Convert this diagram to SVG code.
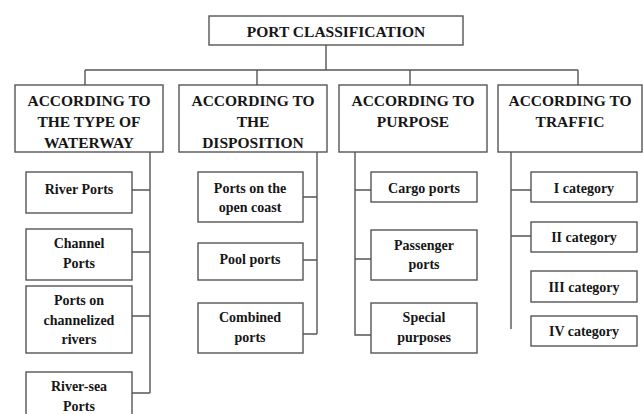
<svg xmlns="http://www.w3.org/2000/svg" width="643" height="414" viewBox="0 0 643 414">
<style>
rect{fill:#fff;stroke:#555;stroke-width:1.4}
.c path{fill:none;stroke:#555;stroke-width:1.4}
text{font-family:"Liberation Serif","Times New Roman",serif;font-weight:bold;fill:#161616;text-anchor:middle;dominant-baseline:central}
.h{font-size:15.5px}
.s{font-size:14px}
</style>
<rect x="0" y="0" width="643" height="414" style="stroke:none"/>
<g class="c">
<path d="M326 45V70M85 70H578M85 70V85M257 70V85M410 70V85M578 70V85"/>
<path d="M150 152V393M132 190H150M132 252H150M132 316H150M132 393H150"/>
<path d="M317 152V334M303 197H317M303 260H317M303 334H317"/>
<path d="M355 152V335H371M355 190H371M355 259H371"/>
<path d="M511 152V329M511 190H531M511 236H531"/>
</g>
<g id="root"><rect x="209" y="16" width="254" height="29"/><text class="h" x="336" y="31">PORT CLASSIFICATION</text></g>
<g id="cat1"><rect x="15" y="85" width="148" height="67"/><text class="h" x="89" y="100">ACCORDING TO</text><text class="h" x="89" y="121">THE TYPE OF</text><text class="h" x="89" y="142">WATERWAY</text></g>
<g id="cat2"><rect x="179" y="85" width="148" height="67"/><text class="h" x="253" y="100">ACCORDING TO</text><text class="h" x="253" y="121">THE</text><text class="h" x="253" y="142">DISPOSITION</text></g>
<g id="cat3"><rect x="339" y="85" width="148" height="67"/><text class="h" x="413" y="100">ACCORDING TO</text><text class="h" x="413" y="121">PURPOSE</text></g>
<g id="cat4"><rect x="498" y="85" width="144" height="67"/><text class="h" x="570" y="100">ACCORDING TO</text><text class="h" x="570" y="121">TRAFFIC</text></g>
<g id="river"><rect x="26" y="172" width="106" height="41"/><text class="s" x="79" y="189">River Ports</text></g>
<g id="channel"><rect x="26" y="229" width="106" height="51"/><text class="s" x="79" y="243">Channel</text><text class="s" x="79" y="263">Ports</text></g>
<g id="channelized"><rect x="26" y="286" width="106" height="67"/><text class="s" x="79" y="300">Ports on</text><text class="s" x="79" y="320">channelized</text><text class="s" x="79" y="339">rivers</text></g>
<g id="riversea"><rect x="26" y="372" width="106" height="50"/><text class="s" x="79" y="386">River-sea</text><text class="s" x="79" y="406">Ports</text></g>
<g id="opencoast"><rect x="198" y="172" width="105" height="50"/><text class="s" x="250" y="188">Ports on the</text><text class="s" x="250" y="207">open coast</text></g>
<g id="pool"><rect x="198" y="243" width="105" height="37"/><text class="s" x="250" y="259">Pool ports</text></g>
<g id="combined"><rect x="198" y="303" width="105" height="50"/><text class="s" x="250" y="317">Combined</text><text class="s" x="250" y="337">ports</text></g>
<g id="cargo"><rect x="371" y="172" width="106" height="30"/><text class="s" x="424" y="188">Cargo ports</text></g>
<g id="passenger"><rect x="371" y="230" width="106" height="50"/><text class="s" x="424" y="245">Passenger</text><text class="s" x="424" y="264">ports</text></g>
<g id="special"><rect x="371" y="303" width="106" height="50"/><text class="s" x="424" y="317">Special</text><text class="s" x="424" y="337">purposes</text></g>
<g id="c1"><rect x="531" y="172" width="106" height="30"/><text class="s" x="584" y="188">I category</text></g>
<g id="c2"><rect x="531" y="222" width="106" height="30"/><text class="s" x="584" y="237">II category</text></g>
<g id="c3"><rect x="531" y="271" width="106" height="31"/><text class="s" x="584" y="287">III category</text></g>
<g id="c4"><rect x="531" y="316" width="106" height="30"/><text class="s" x="584" y="331">IV category</text></g>
</svg>
